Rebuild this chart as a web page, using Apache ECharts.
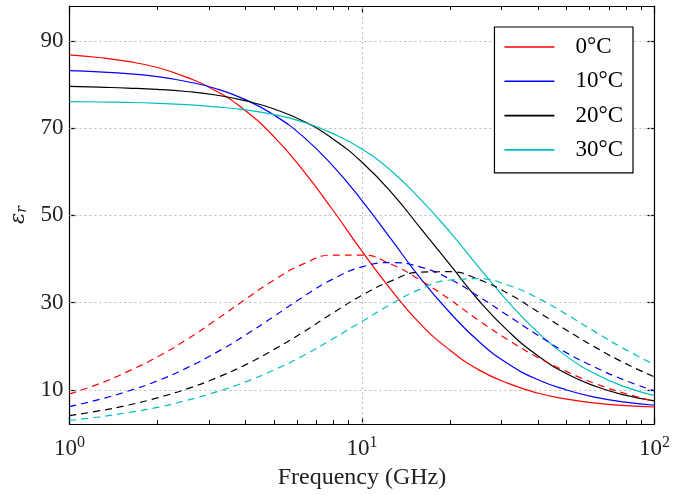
<!DOCTYPE html>
<html>
<head>
<meta charset="utf-8">
<script src="https://cdn.jsdelivr.net/npm/echarts@6/dist/echarts.min.js"></script>
<style>
  html, body { margin: 0; padding: 0; background: #fff; }
  #chart { width: 673px; height: 495px; }
</style>
</head>
<body>
<div id="chart"></div>
<script>
// frequency samples (GHz), log spaced
var freqs = [1, 1.26, 1.58, 2.0, 2.51, 3.16, 3.98, 5.01, 6.31, 7.94, 10, 12.6, 15.8, 20.0, 25.1, 31.6, 39.8, 50.1, 63.1, 79.4, 100];

// real part (solid)
var real0  = [86.8, 86.2, 85.3, 83.9, 81.7, 78.6, 74.1, 68.0, 60.2, 51.3, 41.8, 32.9, 25.2, 19.1, 14.6, 11.5, 9.3, 7.9, 7.0, 6.4, 6.1];
var real10 = [83.2, 82.9, 82.5, 81.8, 80.7, 79.1, 76.6, 73.0, 68.0, 61.4, 53.4, 44.5, 35.7, 27.7, 21.1, 16.0, 12.4, 10.0, 8.3, 7.2, 6.5];
var real20 = [79.6, 79.4, 79.2, 78.9, 78.4, 77.6, 76.3, 74.4, 71.6, 67.6, 62.2, 55.3, 47.2, 38.7, 30.5, 23.5, 17.9, 13.7, 10.8, 8.8, 7.5];
var real30 = [76.1, 76.0, 75.9, 75.7, 75.4, 74.9, 74.2, 73.1, 71.4, 68.8, 65.2, 60.2, 53.8, 46.2, 38.1, 30.2, 23.3, 17.7, 13.6, 10.7, 8.7];

// imaginary part (dashed)
var imag0  = [9.1, 11.4, 14.2, 17.6, 21.5, 26.0, 30.7, 35.2, 38.9, 40.9, 40.9, 38.8, 35.2, 30.7, 25.9, 21.5, 17.5, 14.2, 11.4, 9.2, 7.4];
var imag10 = [6.2, 7.8, 9.7, 12.1, 15.0, 18.5, 22.5, 26.9, 31.4, 35.4, 38.2, 39.2, 38.2, 35.4, 31.4, 27.0, 22.6, 18.5, 15.1, 12.2, 9.8];
var imag20 = [4.1, 5.2, 6.5, 8.2, 10.2, 12.7, 15.7, 19.3, 23.3, 27.6, 31.7, 35.0, 37.0, 37.1, 35.3, 32.1, 28.0, 23.7, 19.7, 16.1, 13.0];
var imag30 = [3.0, 3.8, 4.8, 6.0, 7.6, 9.5, 11.8, 14.6, 17.9, 21.7, 25.7, 29.7, 33.1, 35.2, 35.5, 34.0, 31.1, 27.3, 23.2, 19.3, 15.8];

var tempNames = ['0°C', '10°C', '20°C', '30°C'];
var colors = ['#ff0000', '#0000ff', '#000000', '#00bfbf'];
var realSets = [real0, real10, real20, real30];
var imagSets = [imag0, imag10, imag20, imag30];

var yTicks = [10, 30, 50, 70, 90];
var xMajor = [1, 10, 100];
var xMinor = [2, 3, 4, 5, 6, 7, 8, 9, 20, 30, 40, 50, 60, 70, 80, 90];

function pairs(vals) {
    return freqs.map(function (f, i) { return [f, vals[i]]; });
}

var chart = echarts.init(document.getElementById('chart'));

var series = [];
realSets.forEach(function (vals, i) {
    series.push({
        name: tempNames[i],
        type: 'line',
        data: pairs(vals),
        smooth: true,
        symbol: 'none',
        lineStyle: {color: colors[i], width: 1.2},
        itemStyle: {color: colors[i]},
        z: 3
    });
});
imagSets.forEach(function (vals, i) {
    series.push({
        name: tempNames[i] + ' imag',
        type: 'line',
        data: pairs(vals),
        smooth: true,
        symbol: 'none',
        lineStyle: {color: colors[i], width: 1.2, type: [7, 5]},
        itemStyle: {color: colors[i]},
        z: 3
    });
});
// dotted grid through the axis scales
series[0].markLine = {
    silent: true,
    symbol: ['none', 'none'],
    label: {show: false},
    lineStyle: {color: '#bbbbbb', width: 1, type: [2, 3]},
    z: 1,
    data: yTicks.map(function (v) { return {yAxis: v}; }).concat([{xAxis: 10}])
};

var xBase = {
    type: 'log',
    logBase: 10,
    min: 1,
    max: 100,
    splitLine: {show: false},
    minorTick: {show: false}
};
var yBase = {
    type: 'value',
    min: 2.2,
    max: 98,
    splitLine: {show: false}
};
var serif = 'Liberation Serif';

var option = {
    animation: false,
    backgroundColor: '#fff',
    grid: {left: 66, right: 16, top: 6, bottom: 71},
    legend: {
        data: tempNames.map(function (n) { return {name: n, icon: 'rect'}; }),
        orient: 'vertical',
        right: 40,
        top: 27,
        padding: [8.5, 10, 11.5, 10],
        itemWidth: 50,
        itemHeight: 1.6,
        itemGap: 11.3,
        backgroundColor: '#fff',
        borderColor: '#000',
        borderWidth: 1.2,
        textStyle: {fontFamily: serif, fontSize: 23, color: '#000', padding: [0, 0, 0, 16]}
    },
    xAxis: [
        Object.assign({}, xBase, {
            position: 'bottom',
            name: 'Frequency (GHz)',
            nameLocation: 'middle',
            nameGap: 41,
            nameTextStyle: {fontFamily: serif, fontSize: 24, color: '#222'},
            axisLine: {lineStyle: {color: '#000', width: 1.2}},
            axisTick: {inside: true, length: 7, customValues: xMajor, lineStyle: {color: '#000', width: 1.2}},
            axisLabel: {
                customValues: xMajor,
                margin: 11,
                formatter: function (v) {
                    return '{b|10}{s|' + Math.round(Math.log10(v)) + '}';
                },
                rich: {
                    b: {fontFamily: serif, fontSize: 23, color: '#222'},
                    s: {fontFamily: serif, fontSize: 16, color: '#222', padding: [0, 0, 12, 0]}
                }
            }
        }),
        Object.assign({}, xBase, {
            position: 'bottom',
            axisLine: {show: false},
            axisTick: {inside: true, length: 4, customValues: xMinor, lineStyle: {color: '#000', width: 1}},
            axisLabel: {show: false}
        }),
        Object.assign({}, xBase, {
            position: 'top',
            axisLine: {lineStyle: {color: '#000', width: 1.2}},
            axisTick: {inside: true, length: 7, customValues: xMajor, lineStyle: {color: '#000', width: 1.2}},
            axisLabel: {show: false}
        }),
        Object.assign({}, xBase, {
            position: 'top',
            axisLine: {show: false},
            axisTick: {inside: true, length: 4, customValues: xMinor, lineStyle: {color: '#000', width: 1}},
            axisLabel: {show: false}
        })
    ],
    yAxis: [
        Object.assign({}, yBase, {
            position: 'left',
            name: '{e|ε}{r|r}',
            nameLocation: 'middle',
            nameRotate: 90,
            nameGap: 38,
            nameTextStyle: {
                rich: {
                    e: {fontFamily: 'DejaVu Serif', fontStyle: 'italic', fontSize: 21, color: '#222'},
                    r: {fontFamily: 'DejaVu Serif', fontStyle: 'italic', fontSize: 14, color: '#222', padding: [8, 0, 0, 0]}
                }
            },
            axisLine: {show: true, lineStyle: {color: '#000', width: 1.2}},
            axisTick: {show: true, inside: true, length: 7, customValues: yTicks, lineStyle: {color: '#000', width: 1.2}},
            axisLabel: {customValues: yTicks, margin: 6, fontFamily: serif, fontSize: 23, color: '#222'}
        }),
        Object.assign({}, yBase, {
            position: 'right',
            axisLine: {show: true, lineStyle: {color: '#000', width: 1.2}},
            axisTick: {show: true, inside: true, length: 7, customValues: yTicks, lineStyle: {color: '#000', width: 1.2}},
            axisLabel: {show: false}
        })
    ],
    series: series
};

chart.setOption(option);
</script>
</body>
</html>
